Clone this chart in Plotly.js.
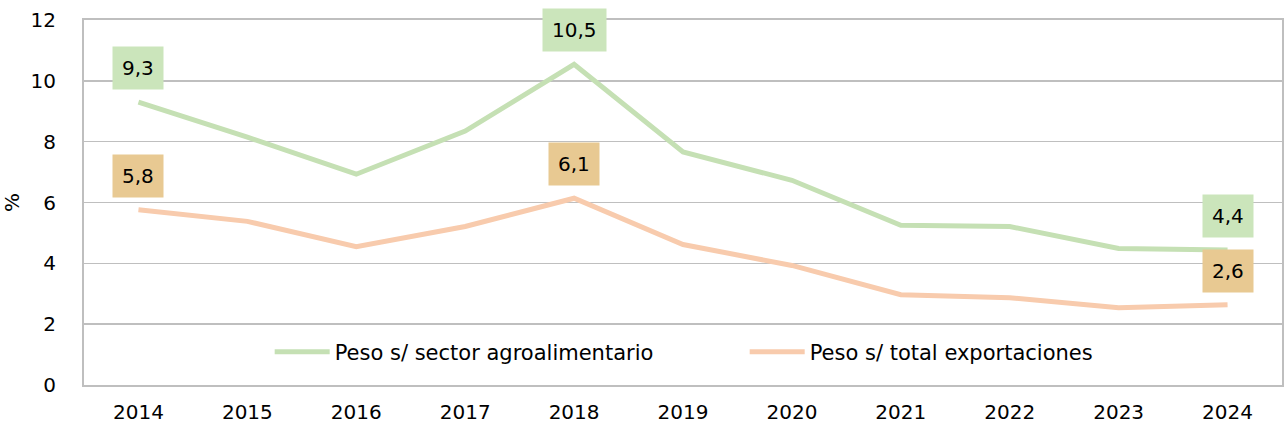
<!DOCTYPE html>
<html>
<head>
<meta charset="utf-8">
<script src="https://cdn.plot.ly/plotly-3.0.1.min.js"></script>
<style>html,body{margin:0;padding:0;background:#fff;}#chart{width:1285px;height:432px;}</style>
</head>
<body>
<div id="chart"></div>
<script>
const years = ['2014','2015','2016','2017','2018','2019','2020','2021','2022','2023','2024'];
const agroValues = [9.3, 8.15, 6.93, 8.35, 10.54, 7.66, 6.73, 5.25, 5.21, 4.49, 4.44];
const exportValues = [5.76, 5.38, 4.55, 5.21, 6.14, 4.62, 3.93, 2.97, 2.87, 2.54, 2.64];
const labeledIdx = [0, 4, 10];
const seriesNames = ['Peso s/ sector agroalimentario', 'Peso s/ total exportaciones'];
const yTicks = [0, 2, 4, 6, 8, 10, 12];

const FONT = 'DejaVu Sans, sans-serif';
const green = '#c5e0b4';
const orange = '#f8cbad';

const fmt = v => v.toFixed(1).replace('.', ',');

const traces = [
  {x: years, y: agroValues, type: 'scatter', mode: 'lines', name: seriesNames[0],
   line: {color: green, width: 5}, hoverinfo: 'skip'},
  {x: years, y: exportValues, type: 'scatter', mode: 'lines', name: seriesNames[1],
   line: {color: orange, width: 5}, hoverinfo: 'skip'}
];

const annotations = [];
labeledIdx.forEach(i => {
  annotations.push({x: i, y: agroValues[i], xref: 'x', yref: 'y', text: fmt(agroValues[i]), showarrow: false,
    yanchor: 'middle', yshift: 34, bgcolor: '#cbe5bb', borderpad: 9,
    font: {family: FONT, size: 20, color: '#000'}});
  annotations.push({x: i, y: exportValues[i], xref: 'x', yref: 'y', text: fmt(exportValues[i]), showarrow: false,
    yanchor: 'middle', yshift: 34, bgcolor: '#e8c992', borderpad: 9,
    font: {family: FONT, size: 20, color: '#000'}});
});

const layout = {
  width: 1285, height: 432,
  margin: {l: 84, r: 3, t: 20, b: 47},
  paper_bgcolor: '#fff', plot_bgcolor: '#fff',
  separators: ',.',
  font: {family: FONT, size: 20, color: '#000'},
  showlegend: true,
  legend: {orientation: 'h', x: 0.155, xanchor: 'left', y: 0.09, yanchor: 'middle',
    font: {family: FONT, size: 21, color: '#000'}, bgcolor: 'rgba(0,0,0,0)',
    entrywidth: 405, itemwidth: 55},
  xaxis: {type: 'category', range: [-0.5, 10.5], showgrid: false, zeroline: false,
    showline: true, linecolor: '#bfbfbf', linewidth: 2, mirror: true,
    ticks: '', ticklabelstandoff: 8, tickfont: {family: FONT, size: 20, color: '#000'}, fixedrange: true},
  yaxis: {range: [0, 12], tickvals: yTicks, showgrid: true, gridcolor: '#bfbfbf', gridwidth: 1.5,
    zeroline: false, showline: true, linecolor: '#bfbfbf', linewidth: 2, mirror: true,
    ticks: '', ticklabelstandoff: 22, tickfont: {family: FONT, size: 20, color: '#000'},
    title: {text: '%', font: {family: FONT, size: 20, color: '#000'}, standoff: 11},
    fixedrange: true},
  annotations: annotations
};

Plotly.newPlot('chart', traces, layout, {displayModeBar: false, staticPlot: true});
</script>
</body>
</html>
